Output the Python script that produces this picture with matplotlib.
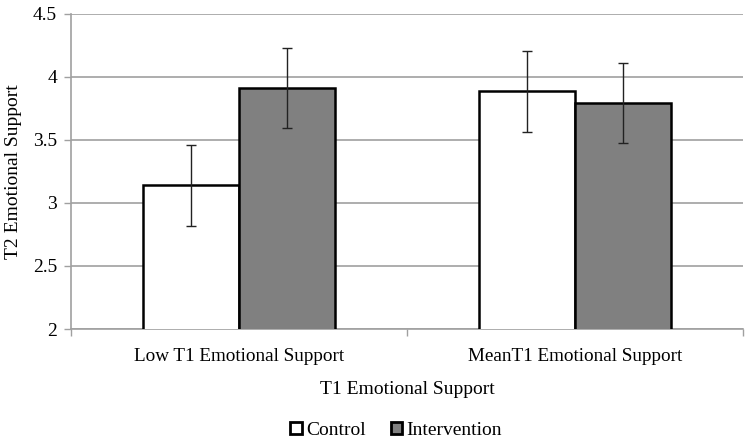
import matplotlib.pyplot as plt
import numpy as np

plt.rcParams['font.family'] = ['Liberation Serif', 'DejaVu Serif']

# data
categories = ['Low T1 Emotional Support', 'MeanT1 Emotional Support']
control = [3.14, 3.885]
control_err = [0.32, 0.32]
intervention = [3.91, 3.79]
intervention_err = [0.32, 0.32]

fig = plt.figure(figsize=(7.5, 4.43), dpi=100)
ax = fig.add_axes([0.0947, 0.2573, 0.896, 0.7122])

x = np.arange(len(categories))
w = 0.286
ax.bar(x - w/2, control, w, color='white', edgecolor='black', linewidth=1.8,
       label='Control', zorder=3)
ax.bar(x + w/2, intervention, w, color='#808080', edgecolor='black', linewidth=1.8,
       label='Intervention', zorder=3)
ax.errorbar(x - w/2, control, yerr=control_err, fmt='none', ecolor='#222222',
            elinewidth=1.0, capsize=3.5, capthick=1.0, zorder=4)
ax.errorbar(x + w/2, intervention, yerr=intervention_err, fmt='none', ecolor='#222222',
            elinewidth=1.0, capsize=3.5, capthick=1.0, zorder=4)

ax.set_ylim(2, 4.5)
ax.set_xlim(-0.5, 1.5)
ax.set_yticks([2, 2.5, 3, 3.5, 4, 4.5])
ax.set_yticklabels(['2', '2.5', '3', '3.5', '4', '4.5'], fontsize=14)
ax.set_xticks(x)
ax.set_xticklabels(categories, fontsize=13.8)
ax.tick_params(axis='x', length=0, pad=14)
ax.set_xticks([-0.5, 0.5, 1.5], minor=True)
ax.tick_params(axis='x', which='minor', length=5, color='#a0a0a0', width=1)
ax.tick_params(axis='y', length=5, color='#a0a0a0', width=1, pad=5)
ax.yaxis.grid(True, color='#a0a0a0', linewidth=1.2, zorder=0)
ax.set_axisbelow(True)
for s in ['top', 'right']:
    ax.spines[s].set_visible(False)
for s in ['left', 'bottom']:
    ax.spines[s].set_color('#a0a0a0')
    ax.spines[s].set_linewidth(1.2)

ax.set_ylabel('T2 Emotional Support', fontsize=14, labelpad=8)
ax.set_xlabel('T1 Emotional Support', fontsize=14, labelpad=11)

leg = fig.legend(loc='lower center', bbox_to_anchor=(0.528, -0.03), ncol=2, frameon=False,
                 fontsize=14, handlelength=0.6, handleheight=0.6, handletextpad=0.2,
                 columnspacing=1.3)
for p in leg.get_patches():
    p.set_linewidth(2.0)

fig.savefig('out.png', dpi=100)
